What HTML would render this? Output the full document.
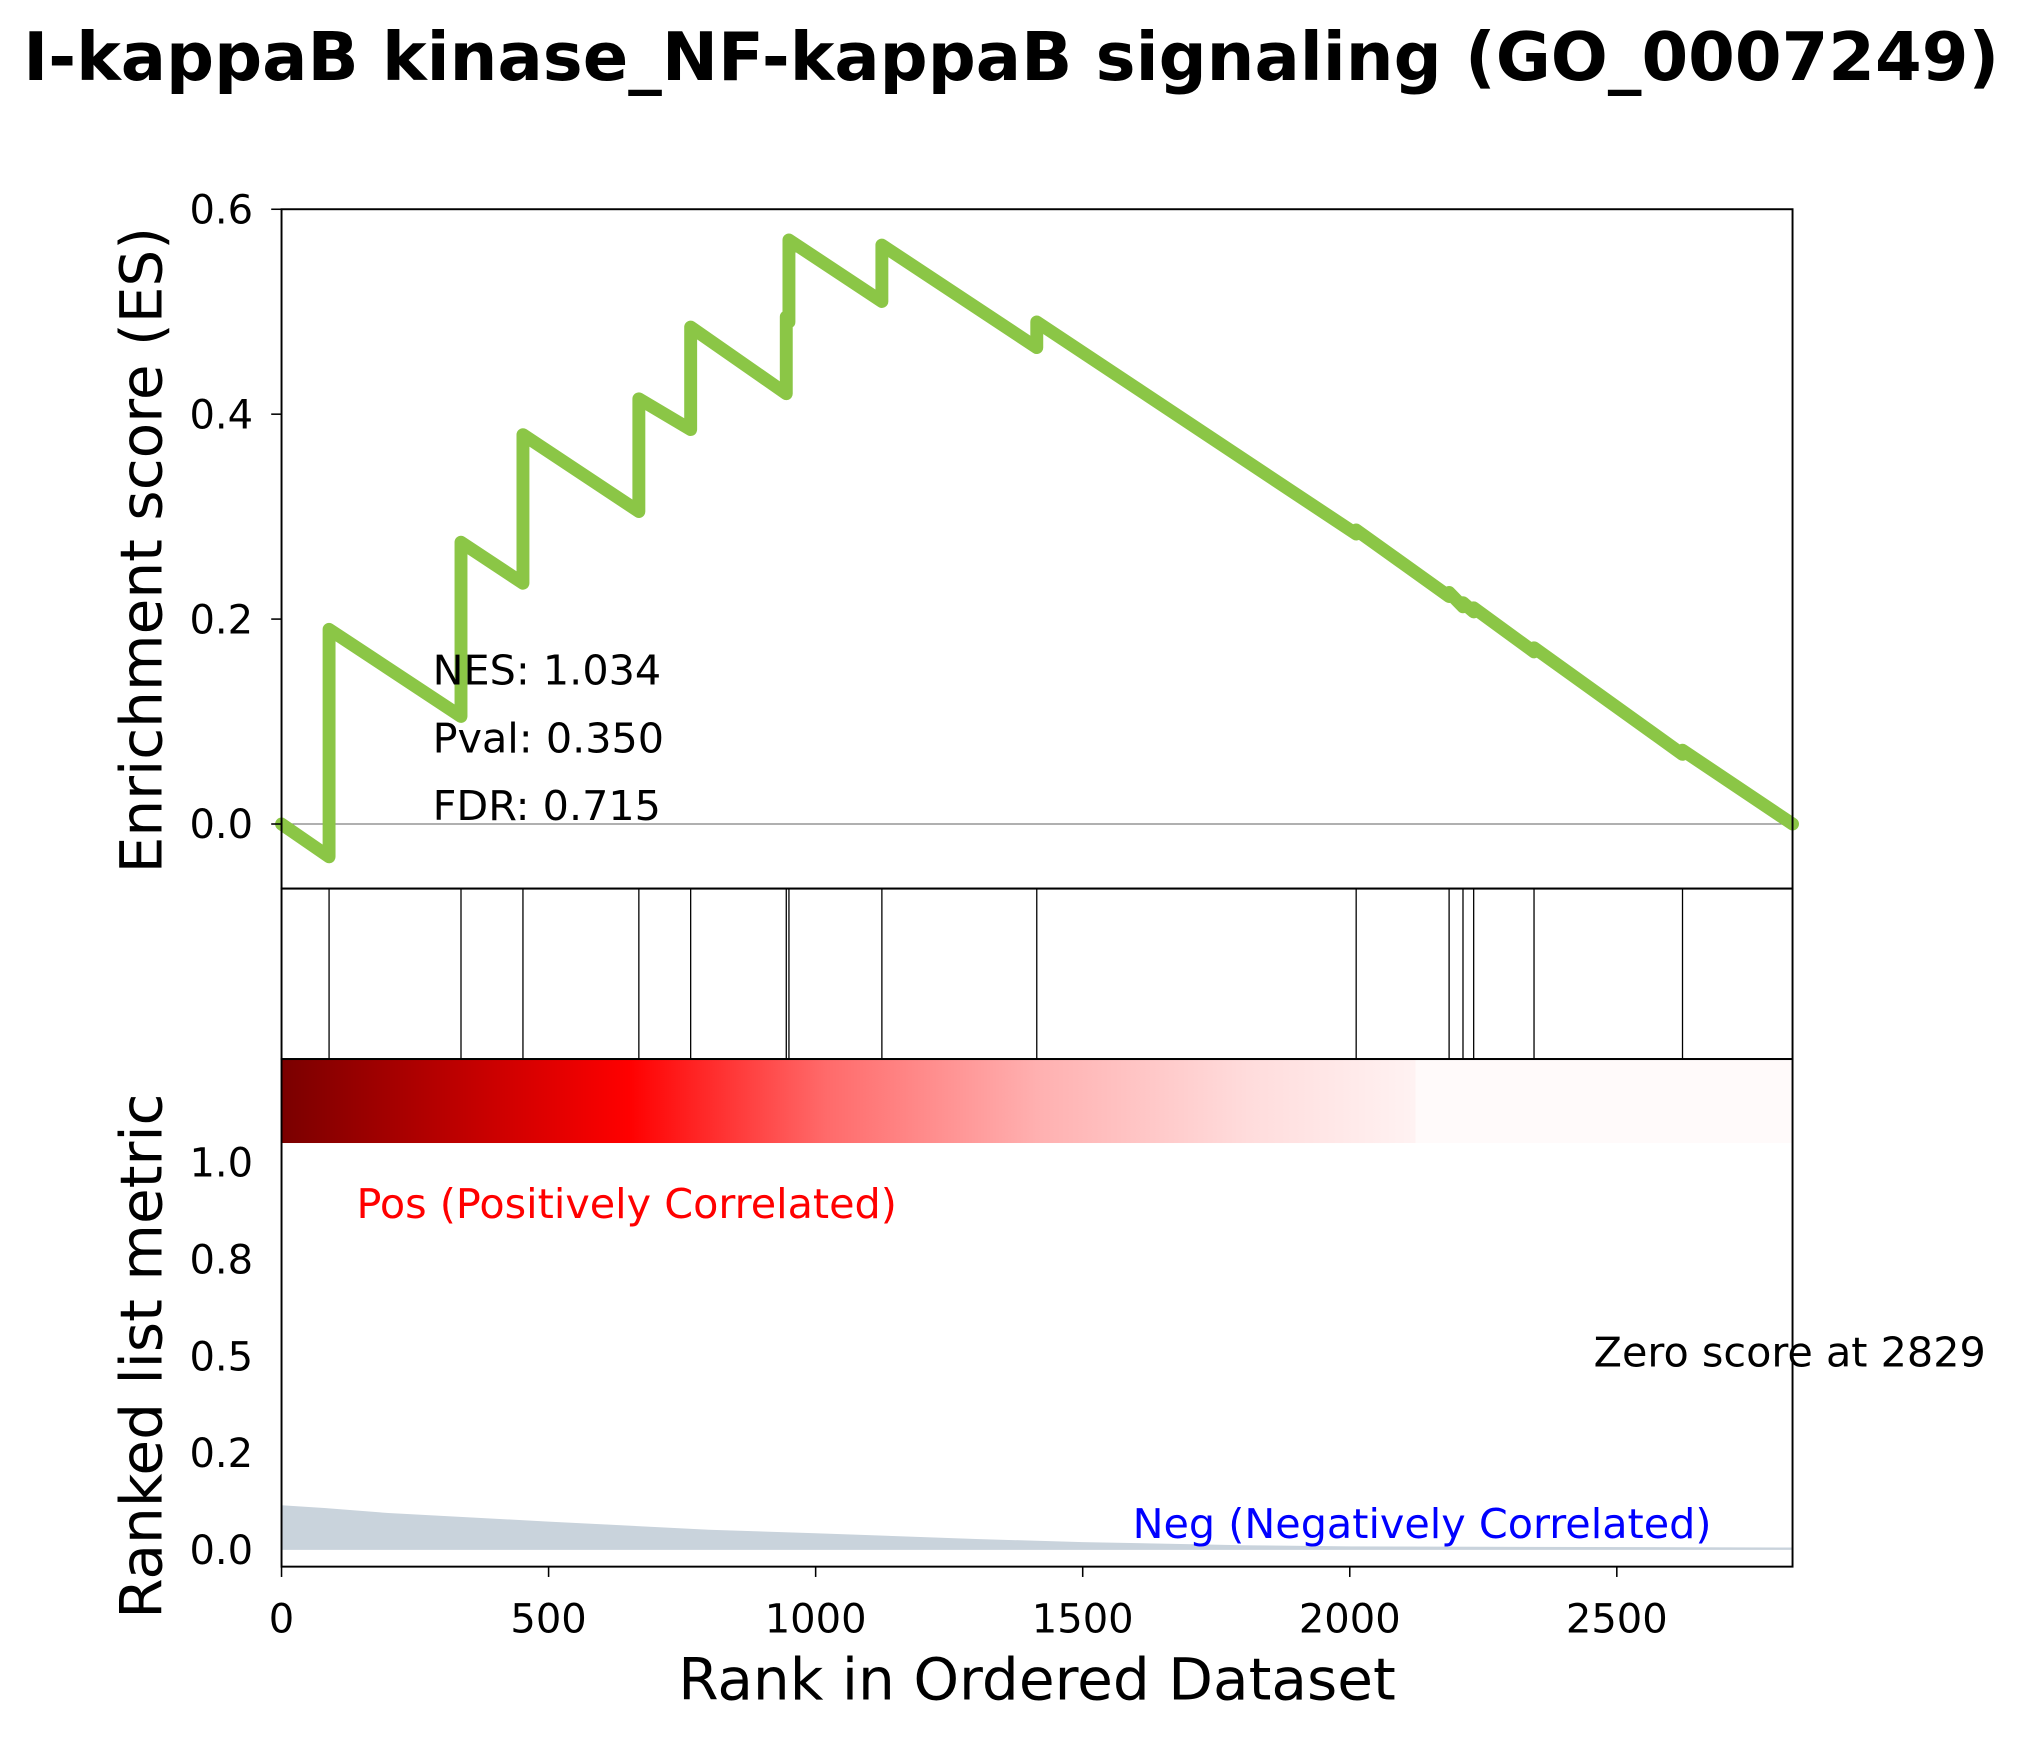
<!DOCTYPE html>
<html><head><meta charset="utf-8"><style>
html,body{margin:0;padding:0;background:#fff;}
svg{display:block;font-family:"DejaVu Sans","Liberation Sans",sans-serif;}
</style></head><body>
<svg id="chart" width="2025" height="1741" viewBox="0 0 1568 1348" preserveAspectRatio="none" xmlns="http://www.w3.org/2000/svg">
<defs>
<linearGradient id="heat" x1="0" x2="1" y1="0" y2="0">
<stop offset="0" stop-color="#7a0000"/>
<stop offset="0.23" stop-color="#ff0000"/>
<stop offset="0.36" stop-color="#ff6a6a"/>
<stop offset="0.5" stop-color="#ffb0b0"/>
<stop offset="0.64" stop-color="#ffdcdc"/>
<stop offset="0.75" stop-color="#fff2f2"/>
<stop offset="0.751" stop-color="#fffafa"/>
<stop offset="1" stop-color="#fffafa"/>
</linearGradient>
</defs>
<text x="783" y="62" text-anchor="middle" font-size="52" font-weight="bold">I-kappaB kinase_NF-kappaB signaling (GO_0007249)</text>
<g id="es-panel"></g>
<g id="hit-panel"></g>
<g id="rank-panel"></g>
</svg>
<script>
const hitRanks = [89, 336, 452, 669, 766, 945, 950, 1124, 1414, 2012, 2186, 2212, 2232, 2345, 2623];
const esBefore = [-0.032, 0.105, 0.235, 0.305, 0.385, 0.42, 0.49, 0.51, 0.465, 0.283, 0.222, 0.212, 0.207, 0.168, 0.068];
const esAfter  = [0.19, 0.275, 0.38, 0.415, 0.485, 0.495, 0.57, 0.565, 0.49, 0.287, 0.226, 0.216, 0.211, 0.172, 0.072];
const totalRanks = 2829;
const metricRanks = [0, 80, 200, 500, 800, 1000, 1300, 1500, 1800, 2000, 2829];
const metricValues = [0.115, 0.108, 0.095, 0.073, 0.052, 0.043, 0.028, 0.02, 0.012, 0.009, 0.006];
const xTicks = [0, 500, 1000, 1500, 2000, 2500];
const esTicks = [0, 0.2, 0.4, 0.6];
const esTickLabels = ["0.0", "0.2", "0.4", "0.6"];
const metricTicks = [0, 0.25, 0.5, 0.75, 1.0];
const metricTickLabels = ["0.0", "0.2", "0.5", "0.8", "1.0"];

const NS = "http://www.w3.org/2000/svg";
const L = 218, R = 1388;
const xs = r => L + r / totalRanks * (R - L);
const yes = v => 638 - v * 793.3;
const ym = v => 1200 - v * 300;
function mk(tag, attrs, parent, text) {
  const e = document.createElementNS(NS, tag);
  for (const k in attrs) e.setAttribute(k, attrs[k]);
  if (text !== undefined) e.textContent = text;
  parent.appendChild(e); return e;
}
const es = document.getElementById('es-panel');
const hp = document.getElementById('hit-panel');
const rp = document.getElementById('rank-panel');

let zl = mk('line', {x1: L, x2: R, y1: yes(0), y2: yes(0), stroke: '#808080', 'stroke-width': 1}, es);


let pts = [[xs(0), yes(0)]];
for (let i = 0; i < hitRanks.length; i++) {
  pts.push([xs(hitRanks[i]), yes(esBefore[i])]);
  pts.push([xs(hitRanks[i]), yes(esAfter[i])]);
}
pts.push([xs(totalRanks), yes(0)]);
let curve = mk('polyline', {points: pts.map(p => p.join(',')).join(' '), fill: 'none', stroke: '#8bc646', 'stroke-width': 10, 'stroke-linejoin': 'round', 'stroke-linecap': 'round'}, es);


let f1 = mk('rect', {x: L, y: 162, width: R - L, height: 526, fill: 'none', stroke: '#000', 'stroke-width': 1.5}, es);


esTicks.forEach((t, i) => {
  mk('line', {x1: L - 8, x2: L, y1: yes(t), y2: yes(t), stroke: '#000', 'stroke-width': 1.2}, es);
  let tl = mk('text', {x: L - 22, y: yes(t) + 11, 'text-anchor': 'end', 'font-size': 31}, es, esTickLabels[i]);
  
  
});
let yl1 = mk('text', {x: 0, y: 0, transform: 'translate(125,426) rotate(-90)', 'text-anchor': 'middle', 'font-size': 45}, es, 'Enrichment score (ES)');


['NES: 1.034', 'Pval: 0.350', 'FDR: 0.715'].forEach((s, i) => {
  let t = mk('text', {x: 335, y: 530 + i * 52.5, 'font-size': 32}, es, s);
  
  
});

hitRanks.forEach(r => {
  let h = mk('line', {x1: xs(r), x2: xs(r), y1: 688, y2: 820, stroke: '#000', 'stroke-width': 1}, hp);
  
  
});
let f2 = mk('rect', {x: L, y: 688, width: R - L, height: 132, fill: 'none', stroke: '#000', 'stroke-width': 1.5}, hp);



let ap = 'M' + xs(0) + ',' + ym(0);
metricRanks.forEach((r, i) => { ap += ' L' + xs(r) + ',' + ym(metricValues[i]); });
ap += ' L' + xs(totalRanks) + ',' + ym(0) + ' Z';
let area = mk('path', {d: ap, fill: '#c9d3dc'}, rp);


let hb = mk('rect', {x: L, y: 820, width: R - L, height: 65, fill: 'url(#heat)'}, rp);


let f3 = mk('rect', {x: L, y: 820, width: R - L, height: 393, fill: 'none', stroke: '#000', 'stroke-width': 1.5}, rp);


metricTicks.forEach((t, i) => {
  let tl = mk('text', {x: L - 22, y: ym(t) + 11, 'text-anchor': 'end', 'font-size': 31}, rp, metricTickLabels[i]);
  
  
});
xTicks.forEach(t => {
  mk('line', {x1: xs(t), x2: xs(t), y1: 1213, y2: 1221, stroke: '#000', 'stroke-width': 1.2}, rp);
  let tl = mk('text', {x: xs(t), y: 1264, 'text-anchor': 'middle', 'font-size': 31}, rp, String(t));
  
  
});
let yl2 = mk('text', {x: 0, y: 0, transform: 'translate(125,1050) rotate(-90)', 'text-anchor': 'middle', 'font-size': 45}, rp, 'Ranked list metric');


let xl = mk('text', {x: 803, y: 1316, 'text-anchor': 'middle', 'font-size': 45}, rp, 'Rank in Ordered Dataset');


let pos = mk('text', {x: 276, y: 943, 'font-size': 32, fill: '#ff0000'}, rp, 'Pos (Positively Correlated)');


let neg = mk('text', {x: 877, y: 1191, 'font-size': 32, fill: '#0000ff'}, rp, 'Neg (Negatively Correlated)');


let zs = mk('text', {x: 1234, y: 1058, 'font-size': 32}, rp, 'Zero score at 2829');


</script>
</body></html>
